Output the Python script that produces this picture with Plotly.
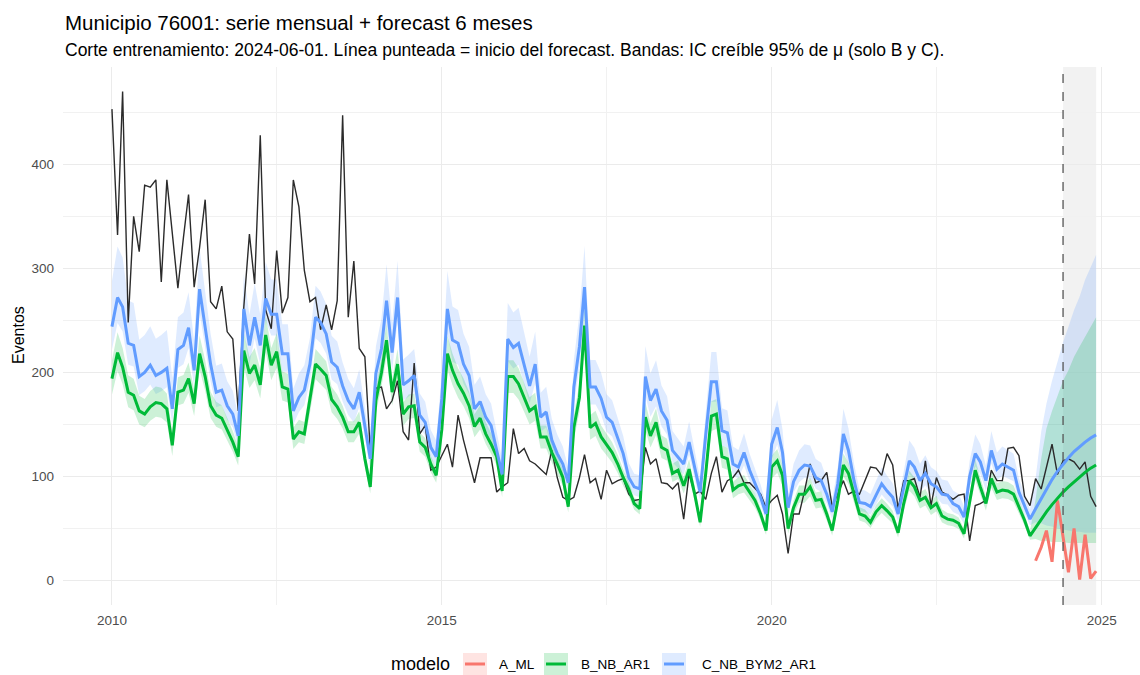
import pandas as pd
import plotly.graph_objects as go

# ---------------- data ----------------
months = pd.date_range("2010-01-01", "2024-12-01", freq="MS").strftime("%Y-%m-%d").tolist()
band_years = list(range(2010, 2024))

observado = [453, 332, 470, 248, 350, 316, 380, 378, 385, 287, 385, 333,
             281, 330, 371, 282, 320, 366, 268, 261, 283, 239, 232, 163,
             263, 333, 285, 428, 260, 242, 317, 257, 272, 385, 359, 298,
             268, 272, 241, 265, 241, 269, 447, 253, 307, 223, 215, 125,
             185, 186, 165, 173, 192, 143, 135, 209, 141, 149, 106, 109,
             120, 131, 109, 159, 135, 115, 94, 118, 118, 118, 85, 90,
             94, 146, 122, 127, 115, 112, 107, 102, 125, 99, 80, 77,
             80, 99, 121, 94, 98, 78, 106, 93, 96, 98, 83, 77,
             78, 128, 112, 117, 94, 93, 88, 94, 59, 103, 83, 86,
             78, 103, 119, 85, 96, 99, 106, 94, 94, 89, 83, 70,
             77, 82, 64, 26, 64, 64, 86, 112, 94, 96, 104, 71,
             83, 96, 83, 86, 83, 96, 109, 108, 101, 122, 111, 69,
             96, 96, 98, 80, 115, 72, 99, 85, 82, 78, 82, 83,
             38, 72, 74, 77, 106, 96, 96, 127, 128, 120, 81, 72,
             98, 88, 109, 131, 102, 115, 117, 114, 107, 114, 81, 71]

B_NB_AR1 = [194, 219, 205, 181, 178, 163, 160, 167, 171, 170, 165, 130,
            181, 183, 194, 170, 218, 196, 168, 159, 156, 144, 133, 119,
            221, 199, 207, 188, 236, 207, 220, 186, 184, 136, 143, 141,
            173, 208, 203, 197, 174, 167, 157, 143, 143, 152, 117, 90,
            173, 200, 231, 181, 208, 160, 167, 168, 133, 128, 112, 101,
            145, 218, 202, 189, 180, 168, 148, 156, 141, 131, 119, 86,
            196, 196, 189, 176, 163, 167, 138, 138, 123, 112, 99, 71,
            147, 176, 245, 147, 151, 138, 131, 123, 112, 99, 88, 74,
            69, 157, 139, 152, 128, 125, 103, 106, 91, 107, 83, 56,
            103, 158, 160, 119, 117, 87, 91, 93, 85, 77, 64, 48,
            109, 115, 101, 50, 70, 83, 83, 90, 77, 78, 64, 48,
            77, 111, 103, 83, 64, 62, 56, 66, 72, 67, 61, 46,
            74, 96, 90, 77, 80, 70, 74, 62, 59, 58, 55, 45,
            75, 106, 90, 74, 98, 85, 87, 86, 83, 70, 58, 43,
            51, 59, 66, 73, 79, 85, 90, 95, 100, 104, 108, 111]

C_NB_BYM2_AR1 = [244, 272, 263, 228, 226, 196, 200, 207, 197, 200, 204, 165,
                 222, 226, 243, 202, 280, 244, 208, 181, 183, 168, 160, 139,
                 261, 226, 253, 226, 271, 256, 256, 218, 218, 163, 176, 183,
                 208, 253, 248, 237, 210, 205, 187, 173, 165, 181, 149, 117,
                 199, 223, 269, 219, 272, 188, 192, 197, 159, 152, 128, 119,
                 175, 261, 231, 228, 208, 197, 165, 172, 157, 149, 125, 102,
                 232, 224, 228, 208, 187, 208, 157, 162, 135, 122, 112, 94,
                 186, 225, 282, 186, 186, 175, 157, 152, 136, 122, 99, 90,
                 88, 196, 173, 184, 163, 154, 125, 119, 112, 133, 107, 85,
                 140, 191, 191, 144, 142, 112, 109, 123, 106, 93, 80, 64,
                 131, 147, 123, 70, 95, 106, 111, 110, 99, 96, 83, 66,
                 93, 141, 125, 96, 75, 74, 71, 82, 93, 86, 80, 64,
                 90, 115, 109, 96, 103, 93, 90, 83, 82, 74, 71, 61,
                 100, 122, 114, 96, 125, 107, 112, 109, 106, 85, 72, 59,
                 69, 79, 88, 97, 105, 112, 118, 124, 129, 133, 137, 140]

A_ML = [19, 32, 48, 18, 77, 40, 8, 50, 1, 44, 2, 9]          # 2024-01 .. 2024-12

# band widths read per year (relative to the mean), 2010..2023
C_up_rel = [0.18, 0.14, 0.13, 0.12, 0.13, 0.14, 0.15, 0.14, 0.15, 0.15, 0.18, 0.17, 0.17, 0.15]
C_lo_rel = [0.09, 0.08, 0.08, 0.08, 0.08, 0.09, 0.09, 0.09, 0.09, 0.10, 0.11, 0.11, 0.11, 0.10]
B_up_rel = [0.09, 0.08, 0.08, 0.07, 0.07, 0.08, 0.08, 0.08, 0.09, 0.09, 0.10, 0.10, 0.10, 0.10]
B_lo_rel = [0.08, 0.07, 0.07, 0.07, 0.07, 0.07, 0.08, 0.08, 0.08, 0.09, 0.10, 0.10, 0.10, 0.09]
# band edges read for 2024-01 .. 2024-12
C_hi_2024 = [98, 143, 170, 192, 210, 229, 244, 260, 273, 289, 301, 313]
C_lo_2024 = [56, 55, 53, 52, 50, 49, 48, 47, 47, 46, 46, 46]
B_hi_2024 = [78, 117, 146, 163, 177, 192, 202, 215, 225, 234, 244, 253]
B_lo_2024 = [40, 38, 38, 37, 37, 37, 36, 36, 36, 36, 36, 36]

x_ticks = ["2010-01-01", "2015-01-01", "2020-01-01", "2025-01-01"]
x_ticktext = ["2010", "2015", "2020", "2025"]
x_minor = ["2012-07-02", "2017-07-02", "2022-07-02"]
y_ticks = [0, 100, 200, 300, 400]
y_minor = [50, 150, 250, 350, 450]
corte = "2024-06-01"
fin = "2024-12-01"

COL_A, COL_B, COL_C = "#F8766D", "#00BA38", "#619CFF"
FILL_A = "rgba(248,118,109,0.2)"
FILL_B = "rgba(0,186,56,0.2)"
FILL_C = "rgba(97,156,255,0.2)"
FONT = "Liberation Sans, Arial, sans-serif"


def band(mean, up_rel, lo_rel, hi_fc, lo_fc):
    hi, lo = [], []
    for i, v in enumerate(mean[:len(band_years) * 12]):
        k = i // 12
        hi.append(v * (1 + up_rel[k]))
        lo.append(v * (1 - lo_rel[k]))
    return hi + hi_fc, lo + lo_fc


C_hi, C_lo = band(C_NB_BYM2_AR1, C_up_rel, C_lo_rel, C_hi_2024, C_lo_2024)
B_hi, B_lo = band(B_NB_AR1, B_up_rel, B_lo_rel, B_hi_2024, B_lo_2024)

fig = go.Figure()
fig.add_trace(go.Scatter(x=months + months[::-1], y=C_hi + C_lo[::-1], fill="toself",
                         fillcolor=FILL_C, line=dict(width=0), mode="lines",
                         hoverinfo="skip", showlegend=False))
fig.add_trace(go.Scatter(x=months + months[::-1], y=B_hi + B_lo[::-1], fill="toself",
                         fillcolor=FILL_B, line=dict(width=0), mode="lines",
                         hoverinfo="skip", showlegend=False))
fig.add_trace(go.Scatter(x=months, y=observado, mode="lines", name="observado",
                         line=dict(color="#2b2b2b", width=1.4), showlegend=False))
fig.add_trace(go.Scatter(x=months[-12:], y=A_ML, mode="lines", name="A_ML",
                         line=dict(color=COL_A, width=3), showlegend=False))
fig.add_trace(go.Scatter(x=months, y=B_NB_AR1, mode="lines", name="B_NB_AR1",
                         line=dict(color=COL_B, width=3), showlegend=False))
fig.add_trace(go.Scatter(x=months, y=C_NB_BYM2_AR1, mode="lines", name="C_NB_BYM2_AR1",
                         line=dict(color=COL_C, width=3), showlegend=False))

# ---------------- layout helpers (pixel -> paper) ----------------
W, H = 1140, 675
PL, PR, PT, PB = 63, 1140, 67, 605


def px(xp):
    return (xp - PL) / (PR - PL)


def py(yp):
    return (PB - yp) / (PB - PT)


shapes = [
    dict(type="rect", xref="x", yref="paper", x0=corte, x1=fin, y0=0, y1=1,
         fillcolor="rgba(190,190,190,0.2)", line=dict(width=0), layer="below"),
    dict(type="line", xref="x", yref="paper", x0=corte, x1=corte, y0=0, y1=1,
         line=dict(color="#555555", width=1.3, dash="dash"), layer="above"),
]
annotations = [
    dict(text="Municipio 76001: serie mensual + forecast 6 meses", xref="paper", yref="paper",
         x=px(63), y=py(22), xanchor="left", yanchor="middle", showarrow=False,
         font=dict(family=FONT, size=20.5, color="#000000")),
    dict(text="Corte entrenamiento: 2024-06-01. Línea punteada = inicio del forecast. "
              "Bandas: IC creíble 95% de μ (solo B y C).",
         xref="paper", yref="paper", x=px(63), y=py(50), xanchor="left", yanchor="middle",
         showarrow=False, font=dict(family=FONT, size=17.5, color="#000000")),
    dict(text="Eventos", xref="paper", yref="paper", x=px(18), y=py(335), textangle=-90,
         xanchor="center", yanchor="middle", showarrow=False,
         font=dict(family=FONT, size=16, color="#000000")),
    dict(text="modelo", xref="paper", yref="paper", x=px(452), y=py(664), xanchor="right",
         yanchor="middle", showarrow=False, font=dict(family=FONT, size=18, color="#000000")),
]

legend_items = [("A_ML", COL_A, FILL_A, 463, 497),
                ("B_NB_AR1", COL_B, FILL_B, 544, 579),
                ("C_NB_BYM2_AR1", COL_C, FILL_C, 662, 700)]
for name, col, fill, bx, tx in legend_items:
    shapes.append(dict(type="rect", xref="paper", yref="paper", x0=px(bx), x1=px(bx + 24),
                       y0=py(675), y1=py(653), fillcolor=fill, line=dict(width=0)))
    shapes.append(dict(type="line", xref="paper", yref="paper", x0=px(bx + 2), x1=px(bx + 22),
                       y0=py(664), y1=py(664), line=dict(color=col, width=3)))
    annotations.append(dict(text=name, xref="paper", yref="paper", x=px(tx), y=py(664),
                            xanchor="left", yanchor="middle", showarrow=False,
                            font=dict(family=FONT, size=13.5, color="#000000")))

fig.update_layout(
    width=W, height=H,
    margin=dict(l=PL, r=W - PR, t=PT, b=H - PB, pad=0),
    plot_bgcolor="white", paper_bgcolor="white",
    font=dict(family=FONT),
    showlegend=False,
    shapes=shapes, annotations=annotations,
    xaxis=dict(type="date", range=["2009-04-05", "2025-08-01"],
               tickmode="array", tickvals=x_ticks, ticktext=x_ticktext,
               showgrid=True, gridcolor="#ebebeb", gridwidth=1.1,
               zeroline=False, showline=False, ticks="", ticklabelstandoff=5,
               tickfont=dict(family=FONT, size=13.5, color="#4d4d4d"),
               minor=dict(tickmode="array", tickvals=x_minor, showgrid=True,
                          gridcolor="#f1f1f1", gridwidth=0.8, ticks="")),
    yaxis=dict(range=[-23.5, 493.5], tickmode="array", tickvals=y_ticks,
               ticktext=[str(v) for v in y_ticks],
               showgrid=True, gridcolor="#ebebeb", gridwidth=1.1,
               zeroline=False, showline=False, ticks="", ticklabelstandoff=8,
               tickfont=dict(family=FONT, size=13.5, color="#4d4d4d"),
               minor=dict(tickmode="array", tickvals=y_minor, showgrid=True,
                          gridcolor="#f1f1f1", gridwidth=0.8, ticks="")),
)

fig.write_html("out.html")
